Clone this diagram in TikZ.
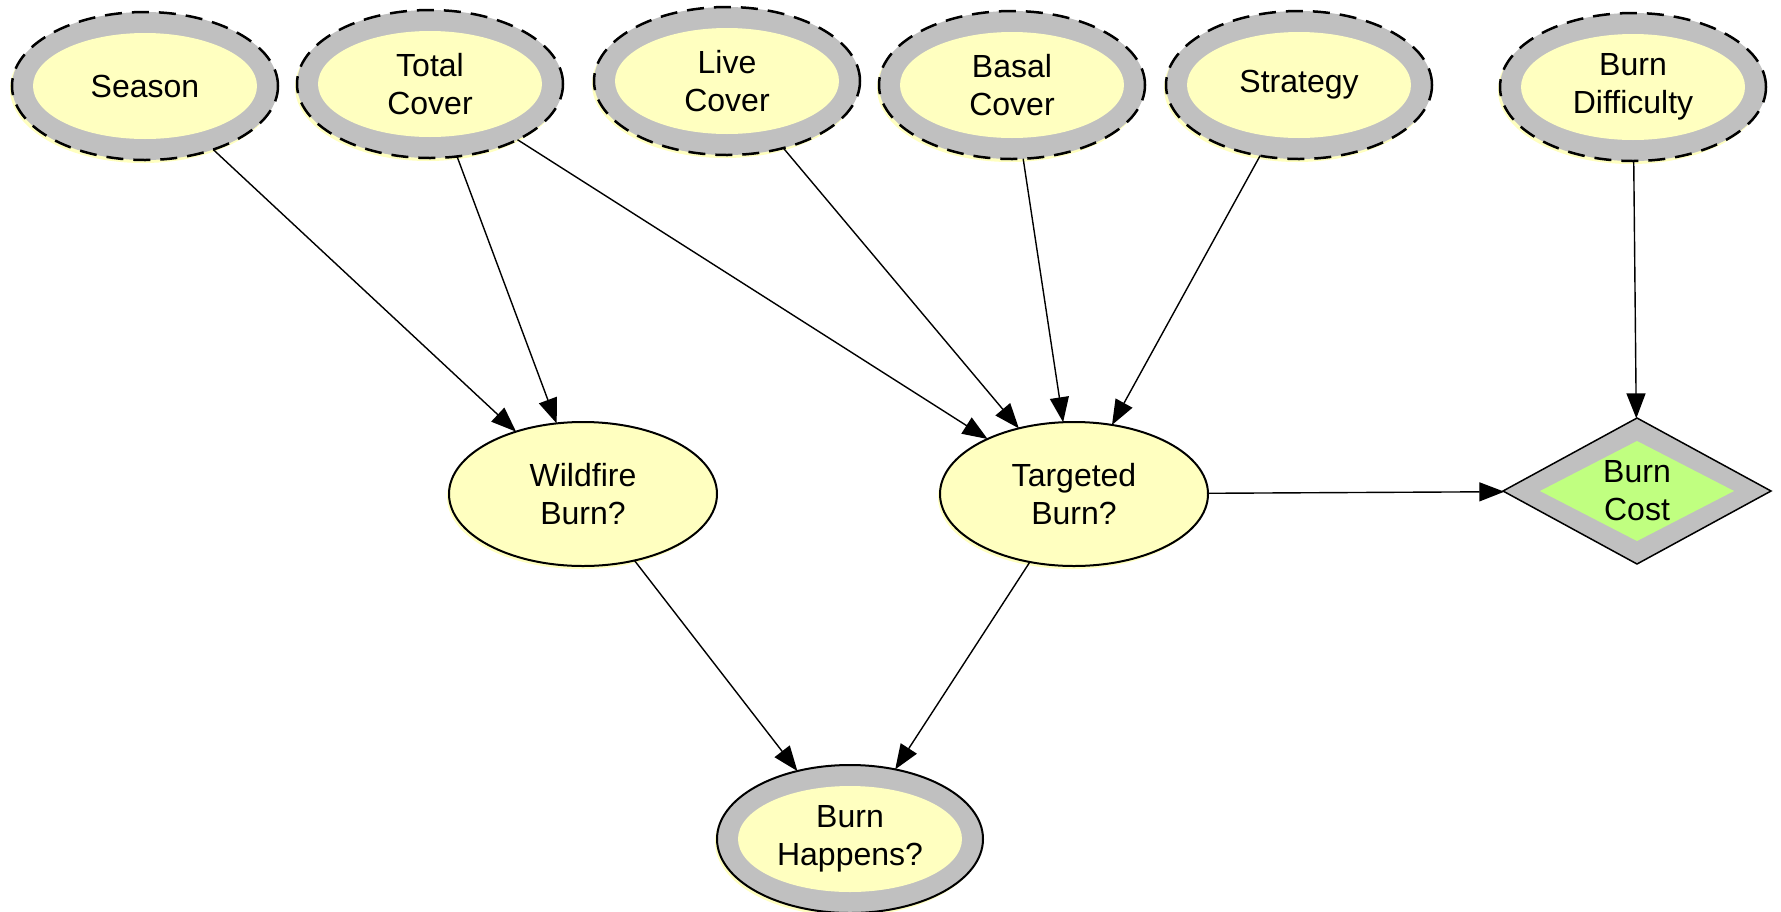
\documentclass[tikz,border=0pt]{standalone}
\usepackage{fontspec}
\setmainfont{Liberation Sans}
\usetikzlibrary{shapes.geometric,arrows.meta,shadows}

\definecolor{nodeyellow}{HTML}{FFFFC0}
\definecolor{ringgray}{HTML}{C0C0C0}
\definecolor{costgreen}{HTML}{C0FF80}

\tikzset{
  lbl/.style={font=\fontsize{32}{38}\selectfont, align=center},
  yshadow/.style={drop shadow={shadow xshift=-2pt, shadow yshift=-3pt,
      fill=nodeyellow, opacity=1}},
  % chance node with gray ring and dashed outline
  ringnode/.style={ellipse, draw=black, line width=2.5pt,
      dash pattern=on 17pt off 10pt,
      minimum width=266pt, minimum height=148pt, inner sep=0pt, outer sep=0pt,
      fill=ringgray, yshadow, lbl,
      path picture={\fill[nodeyellow] (path picture bounding box.center)
          ellipse [x radius=112pt, y radius=53pt];}},
  % result node: gray ring, solid outline
  solidring/.style={ringnode, solid, line width=2pt},
  % plain decision node
  plainnode/.style={ellipse, draw=black, line width=2pt, fill=nodeyellow,
      minimum width=268pt, minimum height=144pt, inner sep=0pt, outer sep=0pt,
      yshadow, lbl},
  % utility node
  costnode/.style={diamond, draw=black, line width=1.5pt, fill=ringgray,
      minimum width=268pt, minimum height=146pt, inner sep=0pt, outer sep=0pt,
      lbl,
      path picture={\fill[costgreen] ([xshift=-97pt]path picture bounding box.center)
          -- ([yshift=50pt]path picture bounding box.center)
          -- ([xshift=97pt]path picture bounding box.center)
          -- ([yshift=-50pt]path picture bounding box.center) -- cycle;}},
  link/.style={draw=black, line width=1.4pt,
      -{Triangle[length=25pt, width=19pt]}, shorten >=0pt}
}

\begin{document}
\begin{tikzpicture}[x=1pt, y=-1pt]
  \useasboundingbox (0,0) rectangle (1781,911);

  \node[ringnode] (season)   at (145,86)  {Season};
  \node[ringnode] (total)    at (430,84)  {Total\\Cover};
  \node[ringnode] (live)     at (727,81)  {Live\\Cover};
  \node[ringnode] (basal)    at (1012,85) {Basal\\Cover};
  \node[ringnode] (strategy) at (1299,85) {Strategy};
  \node[ringnode] (diff)     at (1633,87) {Burn\\Difficulty};

  \node[plainnode] (wild)   at (583,494)  {Wildfire\\Burn?};
  \node[plainnode] (target) at (1074,494) {Targeted\\Burn?};
  \node[costnode]  (cost)   at (1637,491) {Burn\\Cost};

  \node[solidring] (happens) at (850,839) {Burn\\Happens?};

  \draw[link] (season) -- (wild);
  \draw[link] (total) -- (wild);
  \draw[link] (total) -- (target);
  \draw[link] (live) -- (target);
  \draw[link] (basal) -- (target);
  \draw[link] (strategy) -- (target);
  \draw[link] (diff) -- (cost);
  \draw[link] (target) -- (cost);
  \draw[link] (wild) -- (happens);
  \draw[link] (target) -- (happens);
\end{tikzpicture}
\end{document}
